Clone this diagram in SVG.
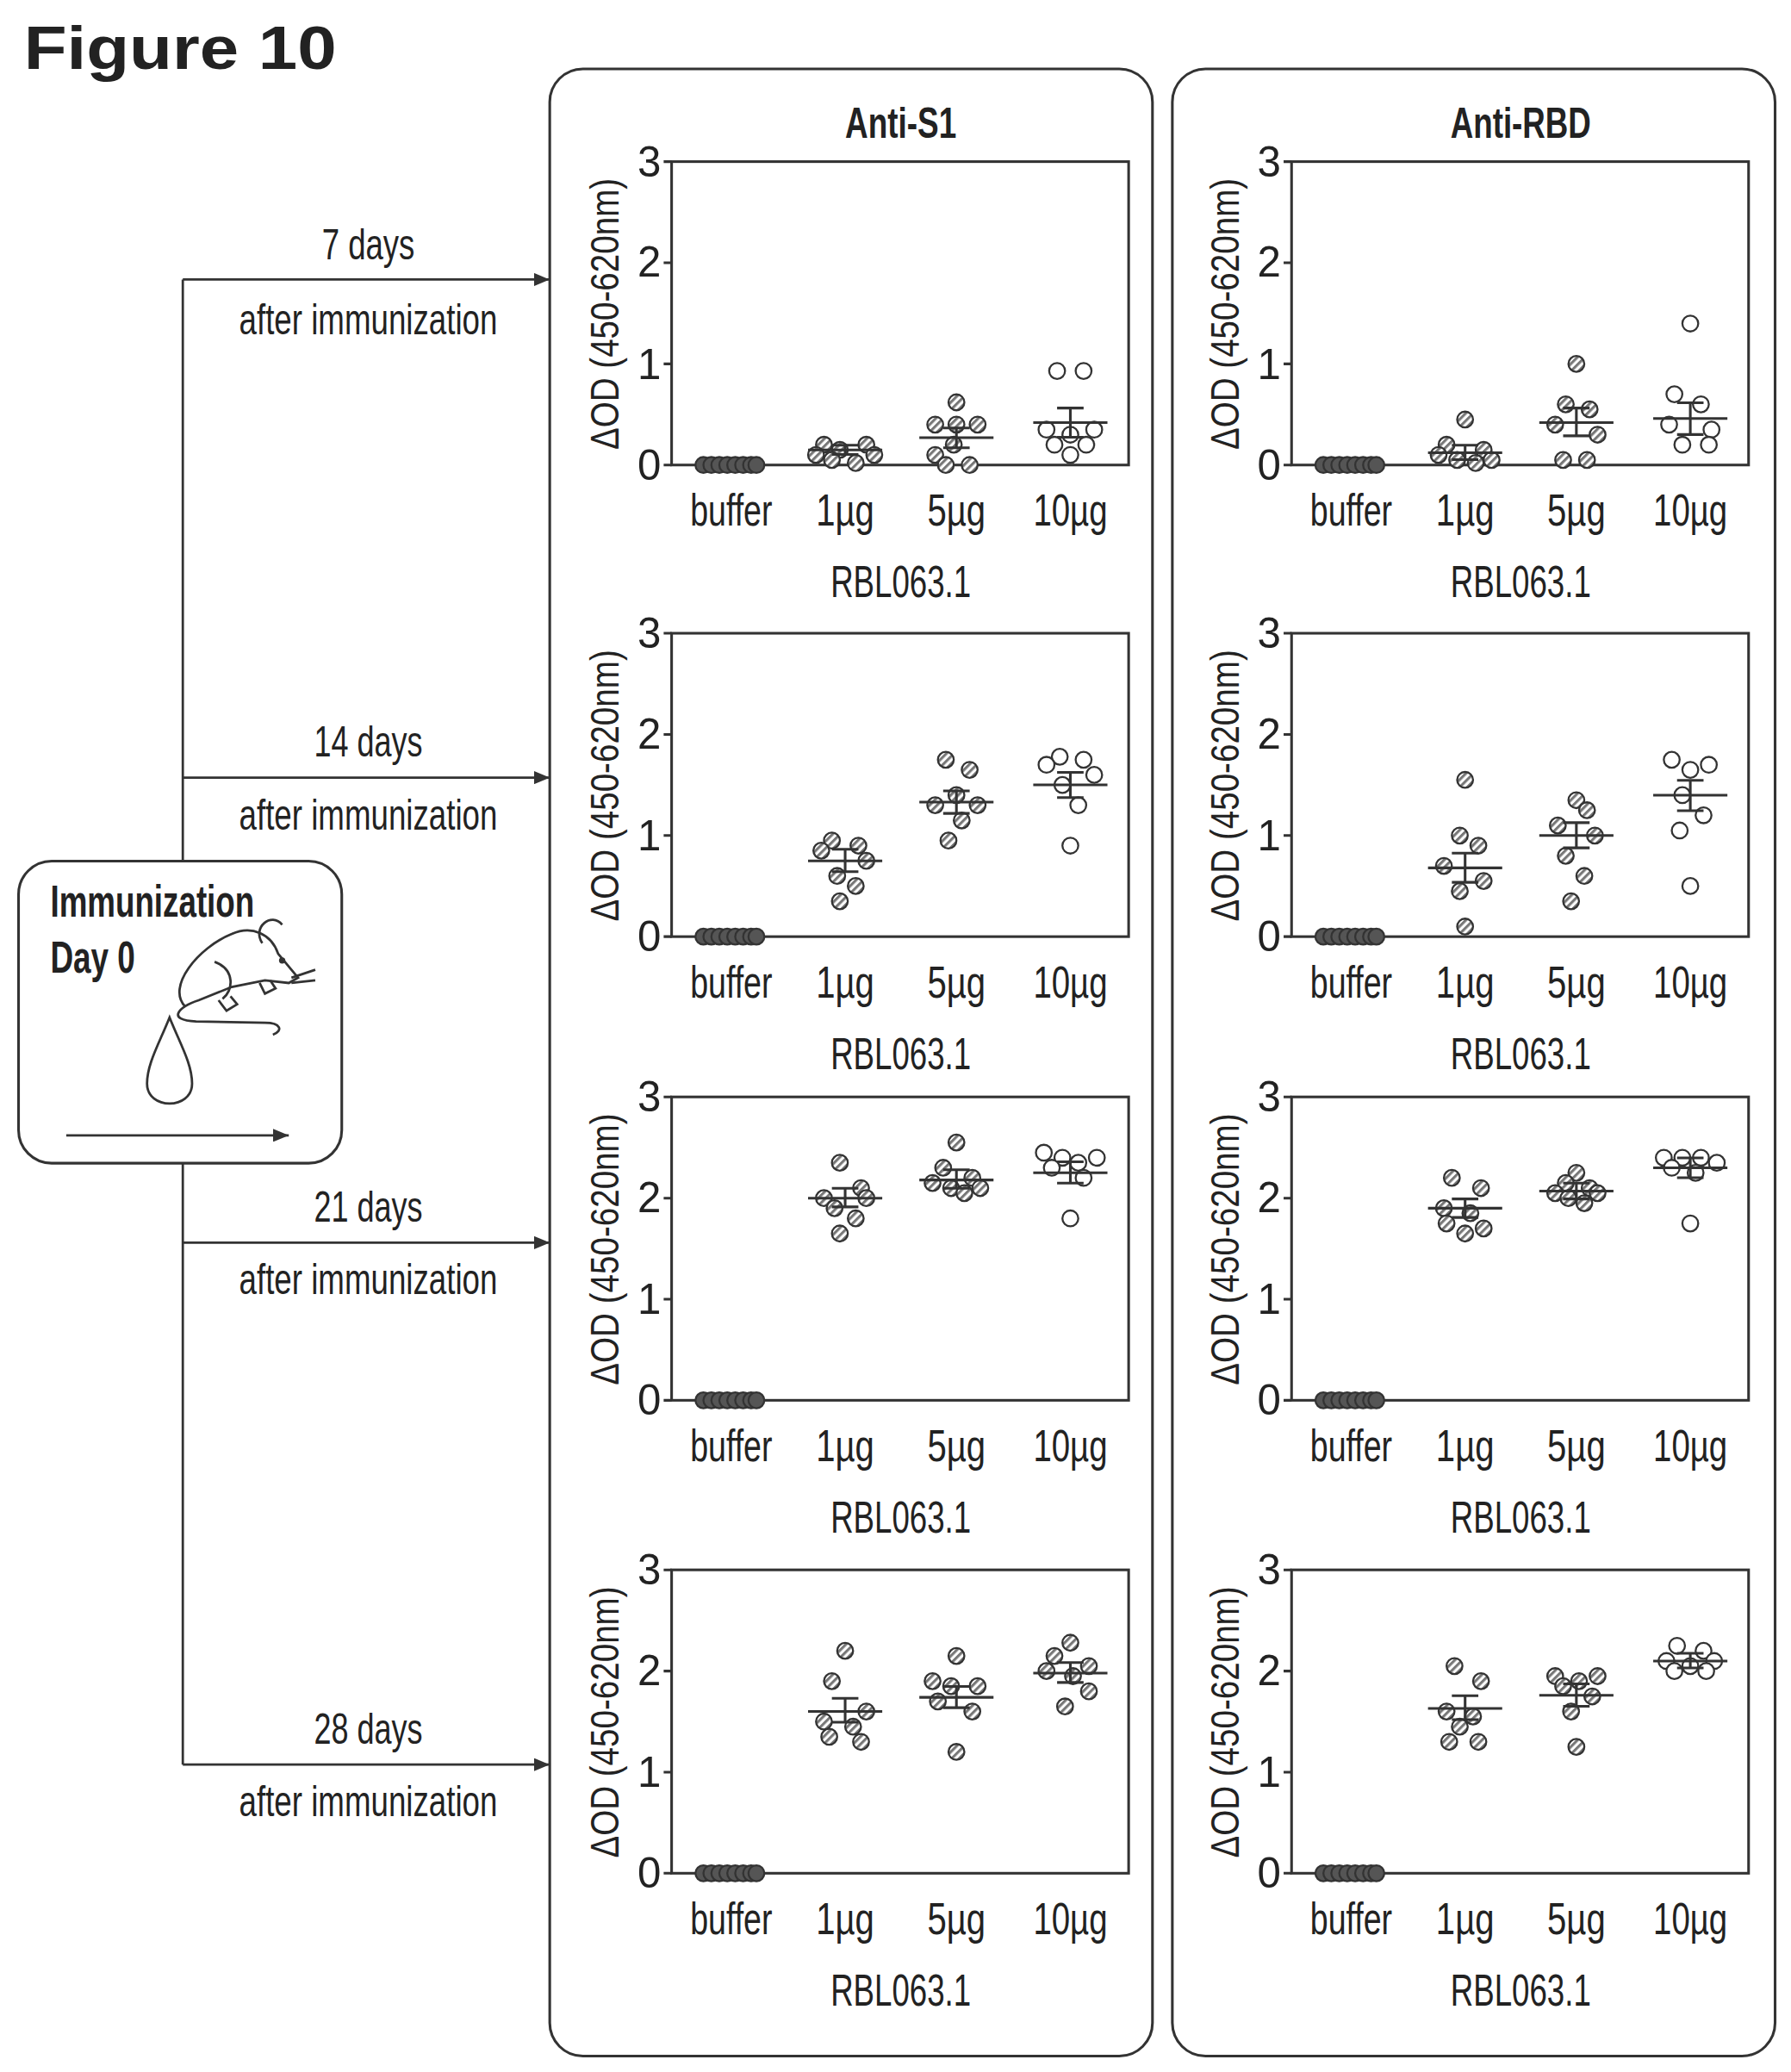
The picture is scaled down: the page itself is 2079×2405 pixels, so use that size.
<svg xmlns="http://www.w3.org/2000/svg" xmlns:xlink="http://www.w3.org/1999/xlink" width="2079" height="2405" viewBox="0 0 2079 2405">
<style>
text{font-family:"Liberation Sans",Arial,sans-serif;fill:#222}
.ax{fill:none;stroke:#333;stroke-width:2}
.ln{fill:none;stroke:#333;stroke-width:1.8}
.tk{font-size:32px;text-anchor:end}
.cat{font-size:34px;text-anchor:middle}
.yl{font-size:30px;text-anchor:middle}
.lab{font-size:32px;text-anchor:middle}
.mean{fill:none;stroke:#333;stroke-width:2}
</style>
<defs>
<pattern id="hp" width="4" height="4" patternUnits="userSpaceOnUse" patternTransform="rotate(45)"><rect width="4" height="4" fill="#fff"/><rect width="2" height="4" fill="#777"/></pattern>
<circle id="h" r="6" fill="url(#hp)" stroke="#333" stroke-width="1.5"/>
<circle id="o" r="6" fill="#fff" stroke="#333" stroke-width="1.5"/>
<circle id="b" r="6" fill="#555" stroke="#333" stroke-width="1.5"/>
<marker id="ar" markerWidth="12" markerHeight="10" refX="12" refY="5" orient="auto" markerUnits="userSpaceOnUse"><path d="M0,0 L12,5 L0,10z" fill="#333"/></marker>
<g id="frame">
<rect class="ax" x="0" y="-229" width="345" height="229"/>
<path class="ax" d="M-6,0h6M-6,-76.3h6M-6,-152.6h6M-6,-229h6"/>
<text class="tk" x="-8" y="11">0</text><text class="tk" x="-8" y="-65">1</text><text class="tk" x="-8" y="-142">2</text><text class="tk" x="-8" y="-218">3</text>
<text class="yl" transform="translate(-40,-114) rotate(-90)" textLength="205" lengthAdjust="spacingAndGlyphs">ΔOD (450-620nm)</text>
<text class="cat" x="45" y="46" textLength="62" lengthAdjust="spacingAndGlyphs">buffer</text>
<text class="cat" x="131" y="46" textLength="44" lengthAdjust="spacingAndGlyphs">1µg</text>
<text class="cat" x="215" y="46" textLength="44" lengthAdjust="spacingAndGlyphs">5µg</text>
<text class="cat" x="301" y="46" textLength="56" lengthAdjust="spacingAndGlyphs">10µg</text>
<text class="cat" x="173" y="100" textLength="106" lengthAdjust="spacingAndGlyphs">RBL063.1</text>
<g><use href="#b" x="24"/><use href="#b" x="30"/><use href="#b" x="36"/><use href="#b" x="42"/><use href="#b" x="48"/><use href="#b" x="54"/><use href="#b" x="60"/><use href="#b" x="64"/></g>
</g>
</defs>
<g transform="scale(1.5377)">
<text x="18" y="52" style="font-size:46px;font-weight:bold" textLength="236" lengthAdjust="spacingAndGlyphs">Figure 10</text>

<g id="panel-s1"><rect x="415" y="52" width="455" height="1500" rx="25" fill="none" stroke="#333" stroke-width="2"/><text x="680" y="104" style="font-size:32px;font-weight:bold;text-anchor:middle" textLength="84" lengthAdjust="spacingAndGlyphs">Anti-S1</text></g>
<g id="panel-rbd"><rect x="885" y="52" width="455" height="1500" rx="25" fill="none" stroke="#333" stroke-width="2"/><text x="1148" y="104" style="font-size:32px;font-weight:bold;text-anchor:middle" textLength="106" lengthAdjust="spacingAndGlyphs">Anti-RBD</text></g>

<g id="immunization">
<rect x="14" y="650" width="244" height="228" rx="25" fill="#fff" stroke="#333" stroke-width="2"/>
<text x="38" y="692" style="font-size:34px;font-weight:bold" textLength="154" lengthAdjust="spacingAndGlyphs">Immunization</text>
<text x="38" y="734" style="font-size:34px;font-weight:bold" textLength="64" lengthAdjust="spacingAndGlyphs">Day 0</text>
<g class="ln" stroke-width="1.5">
<path d="M140,760 C125,745 150,715 175,705 C190,698 205,705 210,720 L225,738 L218,742 L200,740 L175,745 L150,755 C135,760 125,770 148,771 L200,772 C212,772 214,778 206,781"/>
<path d="M198,712 C190,700 205,688 213,698"/>
<circle cx="213" cy="725" r="1.5" fill="#333"/>
<path d="M162,726 C178,732 176,748 168,754"/>
<path d="M165,755 l6,8 l8,-5 l-5,-6 M196,742 l4,8 l8,-4 l-4,-6"/>
<path d="M220,738 l18,-6 M220,742 l18,-2"/>
</g>
<path class="ln" d="M128,768 C120,788 111,803 111,818 C111,838 145,838 145,818 C145,803 136,788 128,768 Z" fill="#fff"/>
<line x1="50" y1="857" x2="218" y2="857" class="ln" marker-end="url(#ar)"/>
</g>

<g id="connectors">
<path class="ln" d="M138,211V650M138,878V1332"/>
<line class="ln" x1="138" y1="211" x2="415" y2="211" marker-end="url(#ar)"/>
<line class="ln" x1="138" y1="587" x2="415" y2="587" marker-end="url(#ar)"/>
<line class="ln" x1="138" y1="938" x2="415" y2="938" marker-end="url(#ar)"/>
<line class="ln" x1="138" y1="1332" x2="415" y2="1332" marker-end="url(#ar)"/>
<text class="lab" x="278" y="196" textLength="70" lengthAdjust="spacingAndGlyphs">7 days</text>
<text class="lab" x="278" y="252" textLength="195" lengthAdjust="spacingAndGlyphs">after immunization</text>
<text class="lab" x="278" y="571" textLength="82" lengthAdjust="spacingAndGlyphs">14 days</text>
<text class="lab" x="278" y="626" textLength="195" lengthAdjust="spacingAndGlyphs">after immunization</text>
<text class="lab" x="278" y="922" textLength="82" lengthAdjust="spacingAndGlyphs">21 days</text>
<text class="lab" x="278" y="977" textLength="195" lengthAdjust="spacingAndGlyphs">after immunization</text>
<text class="lab" x="278" y="1316" textLength="82" lengthAdjust="spacingAndGlyphs">28 days</text>
<text class="lab" x="278" y="1371" textLength="195" lengthAdjust="spacingAndGlyphs">after immunization</text>
</g>

<g id="s1-d7" transform="translate(507,351)"><use href="#frame"/>
<g transform="translate(131,0)"><use href="#h" x="-16" y="-15.3"/><use href="#h" x="16" y="-15.3"/><use href="#h" x="-4" y="-11.4"/><use href="#h" x="-22" y="-7.6"/><use href="#h" x="22" y="-7.6"/><use href="#h" x="-10" y="-3.8"/><use href="#h" x="8" y="-1.5"/><path class="mean" d="M-28,-11.4h56M0,-15v7M-10,-15h20M-10,-8h20"/></g>
<g transform="translate(215,0)"><use href="#h" y="-47.3"/><use href="#h" x="-16" y="-30.5"/><use href="#h" y="-30.5"/><use href="#h" x="16" y="-30.5"/><use href="#h" x="-2" y="-15.3"/><use href="#h" x="-16" y="-7.6"/><use href="#h" x="-8" y="0"/><use href="#h" x="10" y="0"/><path class="mean" d="M-28,-20.6h56M0,-28v15M-10,-28h20M-10,-13h20"/></g>
<g transform="translate(301,0)"><use href="#o" x="-10" y="-71"/><use href="#o" x="10" y="-71"/><use href="#o" x="-18" y="-26.7"/><use href="#o" x="18" y="-26.7"/><use href="#o" x="0" y="-22.9"/><use href="#o" x="-12" y="-15.3"/><use href="#o" x="12" y="-15.3"/><use href="#o" x="0" y="-7.6"/><path class="mean" d="M-28,-32h56M0,-43v22M-10,-43h20M-10,-21h20"/></g>
</g>
<g id="s1-d14" transform="translate(507,707)"><use href="#frame"/>
<g transform="translate(131,0)"><use href="#h" x="-10" y="-72.5"/><use href="#h" x="10" y="-68.7"/><use href="#h" x="-18" y="-64.9"/><use href="#h" x="16" y="-57.2"/><use href="#h" x="-6" y="-45.8"/><use href="#h" x="8" y="-38.2"/><use href="#h" x="-4" y="-26.7"/><path class="mean" d="M-28,-57.2h56M0,-66v17M-10,-66h20M-10,-49h20"/></g>
<g transform="translate(215,0)"><use href="#h" x="-8" y="-133.5"/><use href="#h" x="10" y="-125.9"/><use href="#h" x="0" y="-106.8"/><use href="#h" x="-16" y="-99.2"/><use href="#h" x="16" y="-99.2"/><use href="#h" x="4" y="-87.7"/><use href="#h" x="-6" y="-72.5"/><path class="mean" d="M-28,-101.5h56M0,-110v17M-10,-110h20M-10,-93h20"/></g>
<g transform="translate(301,0)"><use href="#o" x="-8" y="-135.8"/><use href="#o" x="10" y="-133.5"/><use href="#o" x="-18" y="-129.7"/><use href="#o" x="18" y="-122.1"/><use href="#o" x="-6" y="-114.5"/><use href="#o" x="6" y="-99.2"/><use href="#o" x="0" y="-68.7"/><path class="mean" d="M-28,-114.5h56M0,-124v19M-10,-124h20M-10,-105h20"/></g>
</g>
<g id="s1-d21" transform="translate(507,1057)"><use href="#frame"/>
<g transform="translate(131,0)"><use href="#h" x="-4" y="-179.3"/><use href="#h" x="12" y="-160.2"/><use href="#h" x="-16" y="-152.6"/><use href="#h" x="16" y="-152.6"/><use href="#h" x="-8" y="-145"/><use href="#h" x="8" y="-137.3"/><use href="#h" x="-4" y="-125.9"/><path class="mean" d="M-28,-152.6h56M0,-160v14M-10,-160h20M-10,-146h20"/></g>
<g transform="translate(215,0)"><use href="#h" x="0" y="-194.6"/><use href="#h" x="-10" y="-175.5"/><use href="#h" x="12" y="-167.9"/><use href="#h" x="-18" y="-164"/><use href="#h" x="18" y="-160.2"/><use href="#h" x="-4" y="-160.2"/><use href="#h" x="6" y="-156.4"/><path class="mean" d="M-28,-166.3h56M0,-174v14M-10,-174h20M-10,-160h20"/></g>
<g transform="translate(301,0)"><use href="#o" x="-20" y="-186.9"/><use href="#o" x="20" y="-183.1"/><use href="#o" x="-6" y="-183.1"/><use href="#o" x="6" y="-179.3"/><use href="#o" x="-14" y="-175.5"/><use href="#o" x="10" y="-167.9"/><use href="#o" x="0" y="-137.3"/><path class="mean" d="M-28,-171.7h56M0,-180v16M-10,-180h20M-10,-164h20"/></g>
</g>
<g id="s1-d28" transform="translate(507,1414)"><use href="#frame"/>
<g transform="translate(131,0)"><use href="#h" x="0" y="-167.9"/><use href="#h" x="-10" y="-145"/><use href="#h" x="16" y="-122.1"/><use href="#h" x="-16" y="-114.5"/><use href="#h" x="6" y="-110.6"/><use href="#h" x="-12" y="-103"/><use href="#h" x="12" y="-99.2"/><path class="mean" d="M-28,-122.1h56M0,-132v18M-10,-132h20M-10,-114h20"/></g>
<g transform="translate(215,0)"><use href="#h" x="0" y="-164"/><use href="#h" x="-18" y="-145"/><use href="#h" x="16" y="-141.2"/><use href="#h" x="-4" y="-141.2"/><use href="#h" x="-14" y="-129.7"/><use href="#h" x="12" y="-122.1"/><use href="#h" x="0" y="-91.6"/><path class="mean" d="M-28,-132.8h56M0,-141v16M-10,-141h20M-10,-125h20"/></g>
<g transform="translate(301,0)"><use href="#h" x="0" y="-174"/><use href="#h" x="-12" y="-164"/><use href="#h" x="14" y="-156.4"/><use href="#h" x="-18" y="-152.6"/><use href="#h" x="2" y="-148.8"/><use href="#h" x="14" y="-137.3"/><use href="#h" x="-4" y="-125.9"/><path class="mean" d="M-28,-151.1h56M0,-159v15M-10,-159h20M-10,-144h20"/></g>
</g>
<g id="rbd-d7" transform="translate(975,351)"><use href="#frame"/>
<g transform="translate(131,0)"><use href="#h" x="0" y="-34.3"/><use href="#h" x="-14" y="-15.3"/><use href="#h" x="14" y="-11.4"/><use href="#h" x="-20" y="-7.6"/><use href="#h" x="20" y="-3.8"/><use href="#h" x="-6" y="-3.8"/><use href="#h" x="8" y="-1.5"/><path class="mean" d="M-28,-9.2h56M0,-15v11M-10,-15h20M-10,-4h20"/></g>
<g transform="translate(215,0)"><use href="#h" x="0" y="-76.3"/><use href="#h" x="-8" y="-45.8"/><use href="#h" x="10" y="-42"/><use href="#h" x="-16" y="-30.5"/><use href="#h" x="16" y="-22.9"/><use href="#h" x="-10" y="-3.8"/><use href="#h" x="8" y="-3.8"/><path class="mean" d="M-28,-32h56M0,-43v21M-10,-43h20M-10,-22h20"/></g>
<g transform="translate(301,0)"><use href="#o" x="0" y="-106.8"/><use href="#o" x="-12" y="-53.4"/><use href="#o" x="8" y="-45.8"/><use href="#o" x="-16" y="-30.5"/><use href="#o" x="16" y="-26.7"/><use href="#o" x="-6" y="-15.3"/><use href="#o" x="14" y="-15.3"/><path class="mean" d="M-28,-35.1h56M0,-47v24M-10,-47h20M-10,-23h20"/></g>
</g>
<g id="rbd-d14" transform="translate(975,707)"><use href="#frame"/>
<g transform="translate(131,0)"><use href="#h" x="0" y="-118.3"/><use href="#h" x="-4" y="-76.3"/><use href="#h" x="10" y="-68.7"/><use href="#h" x="-16" y="-53.4"/><use href="#h" x="14" y="-42"/><use href="#h" x="-4" y="-34.3"/><use href="#h" x="0" y="-7.6"/><path class="mean" d="M-28,-51.9h56M0,-63v22M-10,-63h20M-10,-41h20"/></g>
<g transform="translate(215,0)"><use href="#h" x="0" y="-103"/><use href="#h" x="8" y="-95.4"/><use href="#h" x="-14" y="-83.9"/><use href="#h" x="14" y="-76.3"/><use href="#h" x="-8" y="-61"/><use href="#h" x="6" y="-45.8"/><use href="#h" x="-4" y="-26.7"/><path class="mean" d="M-28,-76.3h56M0,-86v19M-10,-86h20M-10,-67h20"/></g>
<g transform="translate(301,0)"><use href="#o" x="-14" y="-133.5"/><use href="#o" x="14" y="-129.7"/><use href="#o" x="0" y="-125.9"/><use href="#o" x="-6" y="-106.8"/><use href="#o" x="10" y="-91.6"/><use href="#o" x="-8" y="-80.1"/><use href="#o" x="0" y="-38.2"/><path class="mean" d="M-28,-106.8h56M0,-118v23M-10,-118h20M-10,-95h20"/></g>
</g>
<g id="rbd-d21" transform="translate(975,1057)"><use href="#frame"/>
<g transform="translate(131,0)"><use href="#h" x="-10" y="-167.9"/><use href="#h" x="12" y="-160.2"/><use href="#h" x="-16" y="-145"/><use href="#h" x="4" y="-141.2"/><use href="#h" x="-14" y="-133.5"/><use href="#h" x="14" y="-129.7"/><use href="#h" x="0" y="-125.9"/><path class="mean" d="M-28,-145h56M0,-152v14M-10,-152h20M-10,-138h20"/></g>
<g transform="translate(215,0)"><use href="#h" x="0" y="-171.7"/><use href="#h" x="-8" y="-164"/><use href="#h" x="10" y="-160.2"/><use href="#h" x="-16" y="-156.4"/><use href="#h" x="16" y="-156.4"/><use href="#h" x="-6" y="-152.6"/><use href="#h" x="6" y="-148.8"/><path class="mean" d="M-28,-157.9h56M0,-164v12M-10,-164h20M-10,-152h20"/></g>
<g transform="translate(301,0)"><use href="#o" x="-20" y="-183.1"/><use href="#o" x="-6" y="-183.1"/><use href="#o" x="8" y="-183.1"/><use href="#o" x="20" y="-179.3"/><use href="#o" x="-14" y="-175.5"/><use href="#o" x="4" y="-171.7"/><use href="#o" x="0" y="-133.5"/><path class="mean" d="M-28,-175.5h56M0,-183v15M-10,-183h20M-10,-168h20"/></g>
</g>
<g id="rbd-d28" transform="translate(975,1414)"><use href="#frame"/>
<g transform="translate(131,0)"><use href="#h" x="-8" y="-156.4"/><use href="#h" x="12" y="-145"/><use href="#h" x="-14" y="-122.1"/><use href="#h" x="6" y="-118.3"/><use href="#h" x="-4" y="-110.6"/><use href="#h" x="-12" y="-99.2"/><use href="#h" x="10" y="-99.2"/><path class="mean" d="M-28,-124.4h56M0,-134v18M-10,-134h20M-10,-116h20"/></g>
<g transform="translate(215,0)"><use href="#h" x="-16" y="-148.8"/><use href="#h" x="16" y="-148.8"/><use href="#h" x="2" y="-145"/><use href="#h" x="-10" y="-141.2"/><use href="#h" x="12" y="-133.5"/><use href="#h" x="-4" y="-122.1"/><use href="#h" x="0" y="-95.4"/><path class="mean" d="M-28,-134.3h56M0,-143v17M-10,-143h20M-10,-126h20"/></g>
<g transform="translate(301,0)"><use href="#o" x="-10" y="-171.7"/><use href="#o" x="10" y="-167.9"/><use href="#o" x="-18" y="-160.2"/><use href="#o" x="18" y="-160.2"/><use href="#o" x="0" y="-156.4"/><use href="#o" x="-12" y="-152.6"/><use href="#o" x="12" y="-152.6"/><path class="mean" d="M-28,-160.2h56M0,-166v11M-10,-166h20M-10,-155h20"/></g>
</g>
</g>
</svg>
